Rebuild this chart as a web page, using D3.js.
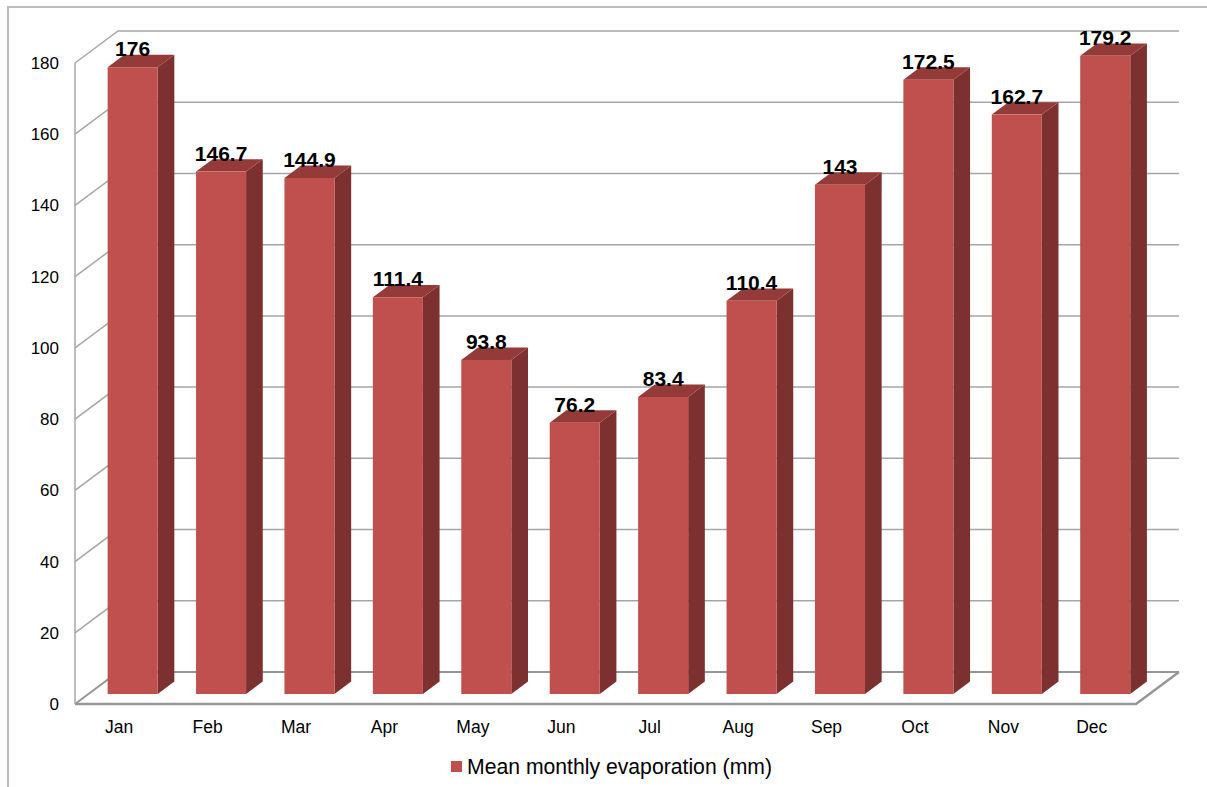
<!DOCTYPE html>
<html>
<head>
<meta charset="utf-8">
<script src="https://cdn.jsdelivr.net/npm/d3@7/dist/d3.min.js"></script>
<style>
  html, body { margin: 0; padding: 0; background: #fff; }
  svg { display: block; font-family: "Liberation Sans", Arial, sans-serif; }
</style>
</head>
<body>
<svg id="chart" width="1207" height="787"></svg>
<script>
// Mean monthly evaporation (mm)
const months = ["Jan", "Feb", "Mar", "Apr", "May", "Jun", "Jul", "Aug", "Sep", "Oct", "Nov", "Dec"];
const evaporation = [176, 146.7, 144.9, 111.4, 93.8, 76.2, 83.4, 110.4, 143, 172.5, 162.7, 179.2];
const yTicks = [0, 20, 40, 60, 80, 100, 120, 140, 160, 180];
const seriesName = "Mean monthly evaporation (mm)";

const svg = d3.select("#chart");

// front plane of the 3D box
const left = 75, right = 1136, floorY = 704, topY = 63;
// depth offset of the back wall
const depthX = 43, depthY = -32;
// bar occupies the middle of the depth
const barFront = 0.3125, barBack = 0.70;

const x = d3.scaleBand().domain(months).range([left, right])
  .paddingInner(0.434).paddingOuter(0.217);
const y = d3.scaleLinear().domain([0, 180]).range([floorY, topY]);

// project a point on the front plane back into the depth (0 = front, 1 = back)
const P = (px, py, d) => [px + depthX * d, py + depthY * d];

// outer chart border (top and left edges)
svg.append("path")
  .attr("d", "M8,787 L8,7 L1207,7")
  .attr("fill", "none").attr("stroke", "#BDBDBD").attr("stroke-width", 2);

// walls: gridlines on side wall and back wall
const grid = svg.append("g");
yTicks.forEach(t => {
  const yf = y(t);
  const a = P(left, yf, 0), b = P(left, yf, 1), c = P(right, yf, 1);
  const isFloor = t === 0;
  grid.append("polyline")
    .attr("points", [a, b, c].map(p => p.join(",")).join(" "))
    .attr("fill", "none")
    .attr("stroke", isFloor ? "#969696" : "#A6A6A6")
    .attr("stroke-width", isFloor ? 2 : 1.5);
});
// floor front edge and right diagonal
{
  const a = P(left, y(0), 0), b = P(right, y(0), 0), c = P(right, y(0), 1);
  grid.append("polyline")
    .attr("points", [a, b, c].map(p => p.join(",")).join(" "))
    .attr("fill", "none").attr("stroke", "#969696").attr("stroke-width", 2.5);
}
// front vertical axis line
grid.append("line")
  .attr("x1", left).attr("x2", left)
  .attr("y1", y(180)).attr("y2", y(0))
  .attr("stroke", "#A6A6A6").attr("stroke-width", 1.5);

// y axis tick labels
svg.append("g").selectAll("text").data(yTicks).join("text")
  .attr("x", 59).attr("y", d => y(d) + 6)
  .attr("text-anchor", "end")
  .attr("font-size", 17).attr("fill", "#000")
  .text(d => d);

// bars
const bars = svg.append("g");
months.forEach((m, i) => {
  const v = evaporation[i];
  const x0 = x(m), x1 = x(m) + x.bandwidth();
  const y0 = y(0), y1 = y(v);
  const fl = P(x0, y1, barFront), fr = P(x1, y1, barFront);
  const frB = P(x1, y0, barFront);
  const bl = P(x0, y1, barBack), br = P(x1, y1, barBack);
  const brB = P(x1, y0, barBack);
  const pts = arr => arr.map(p => p.join(",")).join(" ");
  // side face
  bars.append("polygon").attr("points", pts([fr, br, brB, frB])).attr("fill", "#7C3130");
  // top face
  bars.append("polygon").attr("points", pts([fl, bl, br, fr])).attr("fill", "#943B39");
  // front face
  bars.append("rect")
    .attr("x", fl[0]).attr("y", fl[1])
    .attr("width", x1 - x0).attr("height", frB[1] - fl[1])
    .attr("fill", "#C0504D");
  // value label
  bars.append("text")
    .attr("x", (fl[0] + fr[0]) / 2).attr("y", fl[1] - 11)
    .attr("text-anchor", "middle")
    .attr("font-size", 21).attr("font-weight", "bold").attr("fill", "#000")
    .text(v);
});

// category labels
svg.append("g").selectAll("text").data(months).join("text")
  .attr("x", d => x(d) + x.bandwidth() / 2)
  .attr("y", 733)
  .attr("text-anchor", "middle")
  .attr("font-size", 17.5).attr("fill", "#000")
  .text(d => d);

// legend
const legend = svg.append("g");
legend.append("rect").attr("x", 451).attr("y", 761).attr("width", 11).attr("height", 11).attr("fill", "#C0504D");
legend.append("text").attr("x", 467).attr("y", 774)
  .attr("font-size", 21.2).attr("fill", "#000").text(seriesName);
</script>
</body>
</html>
